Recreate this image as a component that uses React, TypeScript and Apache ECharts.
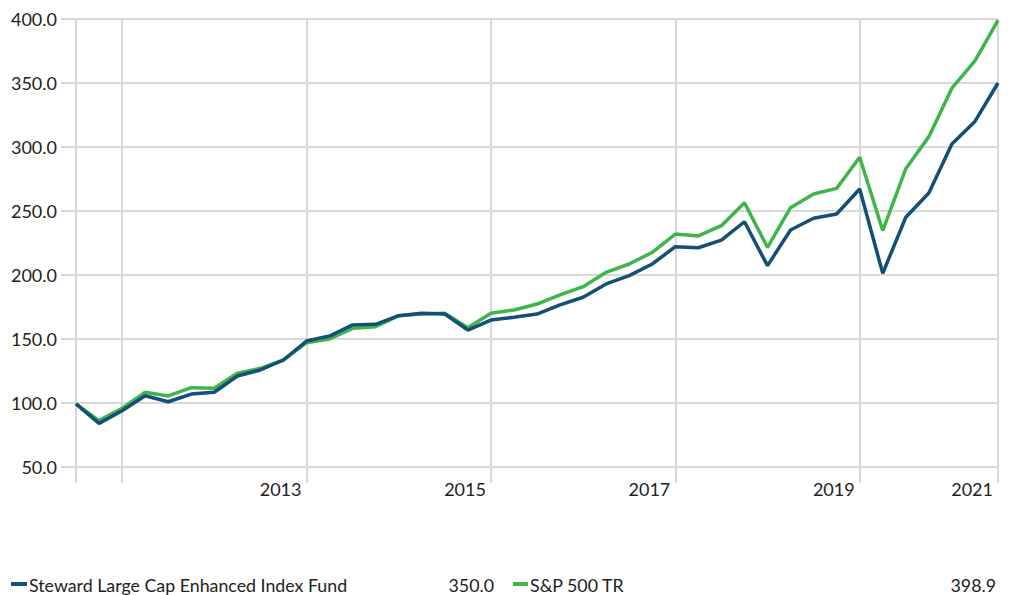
import React, { useEffect, useRef } from "react";
import * as echarts from "echarts";

const quarters: string[] = [
  "2011-06", "2011-09", "2011-12",
  "2012-03", "2012-06", "2012-09", "2012-12",
  "2013-03", "2013-06", "2013-09", "2013-12",
  "2014-03", "2014-06", "2014-09", "2014-12",
  "2015-03", "2015-06", "2015-09", "2015-12",
  "2016-03", "2016-06", "2016-09", "2016-12",
  "2017-03", "2017-06", "2017-09", "2017-12",
  "2018-03", "2018-06", "2018-09", "2018-12",
  "2019-03", "2019-06", "2019-09", "2019-12",
  "2020-03", "2020-06", "2020-09", "2020-12",
  "2021-03", "2021-06",
];

const fundName = "Steward Large Cap Enhanced Index Fund";
const fundValues: number[] = [
  99.3, 84.1, 94.0, 105.7, 101.0, 107.0, 108.4, 121.1, 125.8, 133.6,
  148.4, 152.3, 161.0, 161.5, 168.2, 170.1, 169.5, 157.0, 164.8, 167.0,
  169.5, 176.6, 182.6, 193.0, 199.5, 208.6, 222.1, 221.3, 227.3, 241.6,
  207.3, 235.2, 244.3, 247.7, 267.2, 201.3, 245.1, 264.0, 302.3, 320.0,
  350.0,
];

const indexName = "S&P 500 TR";
const indexValues: number[] = [
  99.3, 86.2, 95.8, 108.4, 105.5, 112.0, 111.5, 123.2, 127.1, 133.6,
  147.1, 150.0, 158.3, 159.6, 168.2, 169.5, 170.1, 158.8, 170.1, 172.7,
  177.3, 184.4, 190.9, 202.1, 208.6, 217.7, 232.0, 230.5, 238.5, 256.5,
  221.6, 252.6, 263.3, 267.7, 292.0, 234.7, 283.0, 308.1, 345.9, 367.3,
  398.9,
];

const gridIndices: number[] = [0, 2, 10, 18, 26, 34, 40];
const labelIndices: number[] = [10, 18, 26, 34, 40];
const labelText: string[] = ["2013", "2015", "2017", "2019", "2021"];

const yMin = 50;
const yMax = 400;
const yInterval = 50;

const BLUE = "#134f78";
const GREEN = "#3fb54a";
const GRID = "#d9d9d9";
const TEXT = "#222222";
const FONT = "Lato";

export default function App() {
  const ref = useRef<HTMLDivElement>(null);

  useEffect(() => {
    if (!ref.current) return;
    const chart = echarts.init(ref.current, undefined, { renderer: "svg" });

    const lastFund = fundValues[fundValues.length - 1].toFixed(1);
    const lastIndex = indexValues[indexValues.length - 1].toFixed(1);

    const legendY = 585;
    const legendFont = 17.8;

    chart.setOption({
      animation: false,
      textStyle: { fontFamily: FONT },
      grid: { left: 76, right: 12, top: 19, bottom: 128, containLabel: false },
      xAxis: {
        type: "category",
        data: quarters,
        boundaryGap: false,
        axisLine: { show: false },
        axisTick: {
          show: true,
          length: 16,
          interval: (i: number) => gridIndices.includes(i),
          lineStyle: { color: GRID, width: 2 },
        },
        splitLine: {
          show: true,
          interval: (i: number) => gridIndices.includes(i),
          lineStyle: { color: GRID, width: 2 },
        },
        axisLabel: {
          interval: (i: number) => labelIndices.includes(i),
          formatter: (_v: string, i: number) => {
            const k = labelIndices.indexOf(i);
            return k >= 0 ? labelText[k] : "";
          },
          align: "right",
          padding: [0, 5, 0, 0],
          margin: 13,
          fontSize: 18,
          color: TEXT,
          fontFamily: FONT,
        },
      },
      yAxis: {
        type: "value",
        min: yMin,
        max: yMax,
        interval: yInterval,
        axisLine: { show: false },
        axisTick: { show: true, length: 15, lineStyle: { color: GRID, width: 2 } },
        splitLine: { show: true, lineStyle: { color: GRID, width: 2 } },
        axisLabel: {
          formatter: (v: number) => v.toFixed(1),
          margin: 19,
          fontSize: 18,
          color: TEXT,
          fontFamily: FONT,
        },
      },
      series: [
        {
          name: indexName,
          type: "line",
          data: indexValues,
          symbol: "none",
          lineStyle: { color: GREEN, width: 3.5 },
          itemStyle: { color: GREEN },
          z: 2,
        },
        {
          name: fundName,
          type: "line",
          data: fundValues,
          symbol: "none",
          lineStyle: { color: BLUE, width: 3.5 },
          itemStyle: { color: BLUE },
          z: 3,
        },
      ],
      graphic: [
        { type: "rect", shape: { x: 11, y: legendY - 3, width: 16, height: 4 }, style: { fill: BLUE } },
        {
          type: "text",
          x: 29,
          y: legendY,
          style: { text: fundName, fontSize: legendFont, fontFamily: FONT, fill: TEXT, verticalAlign: "middle" },
        },
        {
          type: "text",
          x: 494,
          y: legendY,
          style: { text: lastFund, fontSize: legendFont, fontFamily: FONT, fill: TEXT, align: "right", verticalAlign: "middle" },
        },
        { type: "rect", shape: { x: 513, y: legendY - 3, width: 15, height: 4 }, style: { fill: GREEN } },
        {
          type: "text",
          x: 530,
          y: legendY,
          style: { text: indexName, fontSize: legendFont, fontFamily: FONT, fill: TEXT, verticalAlign: "middle" },
        },
        {
          type: "text",
          x: 996,
          y: legendY,
          style: { text: lastIndex, fontSize: legendFont, fontFamily: FONT, fill: TEXT, align: "right", verticalAlign: "middle" },
        },
      ],
    });

    return () => chart.dispose();
  }, []);

  return <div ref={ref} style={{ width: 1010, height: 595, position: "absolute", left: 0, top: 0 }} />;
}
